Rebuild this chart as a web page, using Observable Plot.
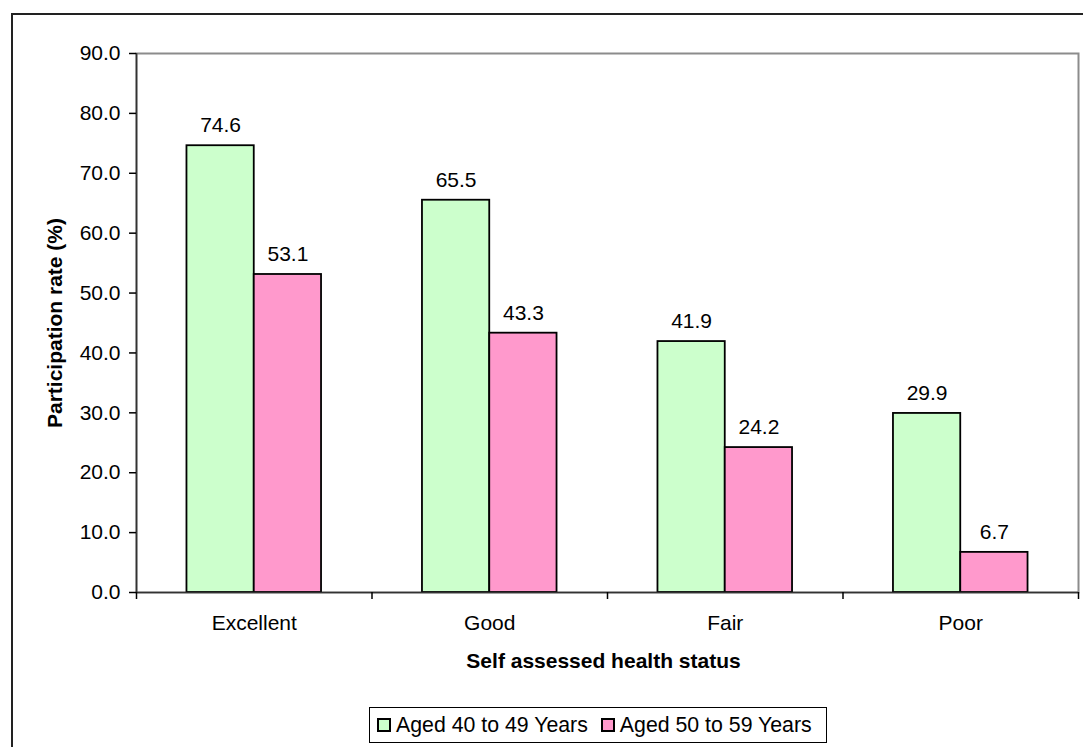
<!DOCTYPE html>
<html>
<head>
<meta charset="utf-8">
<script src="https://cdn.jsdelivr.net/npm/d3@7"></script>
<script src="https://cdn.jsdelivr.net/npm/@observablehq/plot@0.6"></script>
<style>
  html, body { margin: 0; padding: 0; overflow: hidden; background: #fff; width: 1083px; height: 747px; }
  #page { position: relative; width: 1083px; height: 747px; font-family: "Liberation Sans", Arial, sans-serif; }
  #outer { position: absolute; left: 11px; top: 13px; width: 1200px; height: 900px;
           border-left: 2px solid #222; border-top: 2px solid #222; }
  #chart { position: absolute; left: 0; top: 0; }
  #legend { position: absolute; left: 369px; top: 707px; height: 34px; border: 1px solid #000;
            padding: 0 14px 0 8px; display: flex; align-items: center; background: #fff; }
  #legend .leg-swatches { margin: 0 !important; min-height: 0 !important; font-family: "Liberation Sans", Arial, sans-serif !important;
                          font-size: 21.3px !important; color: #000 !important; }
  #legend .leg-swatch { margin-right: 14px !important; }
  #legend .leg-swatch:last-child { margin-right: 0 !important; }
  #legend .leg-swatch > svg { margin-right: 6px !important; overflow: visible; }
  #legend .leg-swatch > svg rect { stroke: #000; stroke-width: 2px; }
</style>
</head>
<body>
<div id="page">
  <div id="outer"></div>
  <div id="chart"></div>
  <div id="legend"></div>
</div>
<script>
// Labour force participation by self assessed health status
const categories = ["Excellent", "Good", "Fair", "Poor"];
const groups = ["Aged 40 to 49 Years", "Aged 50 to 59 Years"];
const aged40to49 = [74.6, 65.5, 41.9, 29.9];
const aged50to59 = [53.1, 43.3, 24.2, 6.7];
const colors = ["#CCFFCC", "#FF99CC"];
const yTicks = [0, 10, 20, 30, 40, 50, 60, 70, 80, 90];
const yTitle = "Participation rate (%)";
const xTitle = "Self assessed health status";

const series = [aged40to49, aged50to59];
const rows = categories.flatMap((category, ci) =>
  series.map((values, gi) => ({category, ci, group: groups[gi], gi, value: values[ci]}))
);

// Clustered layout: each category occupies one unit on x; the gap between
// clusters is 1.5 bar widths.
const gapWidth = 1.5;
const barW = 1 / (groups.length + gapWidth);
const bx1 = d => d.ci + (gapWidth / 2 + d.gi) * barW;
const bx2 = d => bx1(d) + barW;
const bxc = d => bx1(d) + barW / 2;

const font = "'Liberation Sans', Arial, sans-serif";
const fs = 21;

const chart = Plot.plot({
  width: 1083,
  height: 700,
  marginLeft: 136,
  marginRight: 5,
  marginTop: 53,
  marginBottom: 108,
  style: {background: "none", fontFamily: font, fontSize: fs + "px", color: "#000", overflow: "visible"},
  x: {type: "linear", domain: [0, categories.length]},
  y: {domain: [0, 90]},
  color: {domain: groups, range: colors},
  marks: [
    Plot.frame({stroke: "#8c8c8c", strokeWidth: 2}),
    Plot.rectY(rows, {x1: bx1, x2: bx2, y1: () => 0, y2: d => d.value, fill: "group", stroke: "#000", strokeWidth: 1.8}),
    Plot.ruleX([0], {stroke: "#333", strokeWidth: 1.6}),
    Plot.ruleY([0], {stroke: "#333", strokeWidth: 1.6}),
    Plot.axisY({ticks: yTicks, tickFormat: d => d.toFixed(1), tickSize: 7, tickPadding: 9,
                fontSize: fs, label: null, strokeWidth: 1.5}),
    Plot.axisX({ticks: d3.range(categories.length + 1), tickSize: 7, tickFormat: () => "",
                label: null, strokeWidth: 1.5}),
    Plot.axisX({ticks: categories.map((c, i) => i + 0.5), tickSize: 0, tickPadding: 23,
                tickFormat: t => categories[Math.floor(t)], fontSize: fs, label: null}),
    Plot.text(rows, {x: bxc, y: "value", text: d => d.value.toFixed(1), dy: -20, fontSize: fs, fill: "#000"}),
    Plot.text([yTitle], {frameAnchor: "left", textAnchor: "middle", lineAnchor: "middle", rotate: -90, dx: -81,
                         fontWeight: "bold", fontSize: fs, fill: "#000"}),
    Plot.text([xTitle], {frameAnchor: "bottom", textAnchor: "middle", lineAnchor: "middle", dy: 69, dx: -4,
                         fontWeight: "bold", fontSize: fs, fill: "#000"})
  ]
});
document.getElementById("chart").appendChild(chart);

const legend = Plot.legend({
  color: {type: "ordinal", domain: groups, range: colors},
  swatchSize: 12,
  className: "leg"
});
document.getElementById("legend").appendChild(legend);
</script>
</body>
</html>
